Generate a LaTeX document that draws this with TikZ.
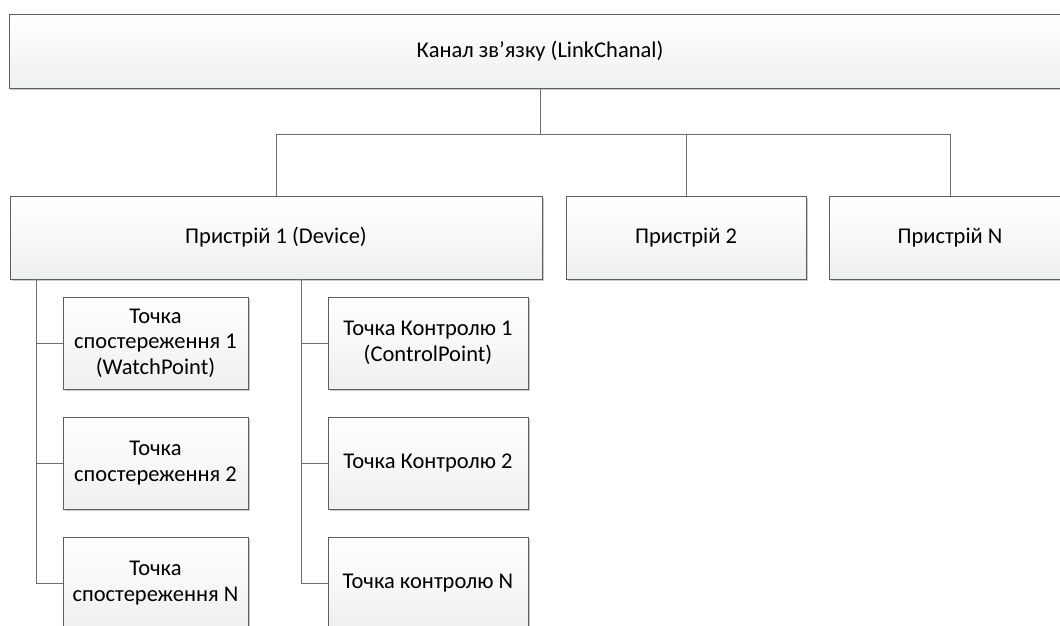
\documentclass[tikz,border=0pt]{standalone}
\usepackage{fontspec}
\setmainfont{Carlito}
\usetikzlibrary{shadows}
\definecolor{boxline}{HTML}{5E5E5E}
\definecolor{conn}{HTML}{6E6E6E}
\definecolor{boxbot}{HTML}{EEF0F0}
\tikzset{
  box/.style={draw=boxline, line width=1pt, top color=white, bottom color=boxbot,
    drop shadow={shadow xshift=2pt, shadow yshift=-2pt, fill=black!35, opacity=0.6},
    inner sep=0pt, align=center, font=\fontsize{22.5}{25.5}\selectfont, text=black},
  link/.style={draw=conn, line width=1pt}
}
\begin{document}
\begin{tikzpicture}[x=1pt, y=-1pt]
\useasboundingbox (0,0) rectangle (1060,626);
\clip (0,0) rectangle (1060,626);
% top
\node[box, minimum width=1062pt, minimum height=73pt] (top) at (540,51.5) {Канал зв’язку (LinkChanal)};
% devices
\node[box, minimum width=532pt, minimum height=83pt] (dev1) at (276,237.5) {Пристрій 1 (Device)};
\node[box, minimum width=240pt, minimum height=83pt] (dev2) at (686,237.5) {Пристрій 2};
\node[box, minimum width=242pt, minimum height=83pt] (devN) at (950,237.5) {Пристрій N};
% watch points
\node[box, minimum width=185pt, minimum height=92pt] (w1) at (155.5,343) {Точка\\спостереження 1\\(WatchPoint)};
\node[box, minimum width=185pt, minimum height=92pt] (w2) at (155.5,463) {Точка\\спостереження 2};
\node[box, minimum width=185pt, minimum height=92pt] (w3) at (155.5,583) {Точка\\спостереження N};
% control points
\node[box, minimum width=200pt, minimum height=92pt] (c1) at (428,343) {Точка Контролю 1\\(ControlPoint)};
\node[box, minimum width=200pt, minimum height=92pt] (c2) at (428,463) {Точка Контролю 2};
\node[box, minimum width=200pt, minimum height=92pt] (c3) at (428,583) {Точка контролю N};
% connectors
\coordinate (bus) at (540,134);
\draw[link] (top.south) -- (bus);
\draw[link] (dev1.north) -- (dev1.north |- bus) -- (devN.north |- bus) -- (devN.north);
\draw[link] (dev2.north) -- (dev2.north |- bus);
\coordinate (lt) at (36,279);
\coordinate (rt) at (301,279);
\draw[link] (lt) |- (w3.west);
\draw[link] (w1.west) -- (w1.west -| lt);
\draw[link] (w2.west) -- (w2.west -| lt);
\draw[link] (rt) |- (c3.west);
\draw[link] (c1.west) -- (c1.west -| rt);
\draw[link] (c2.west) -- (c2.west -| rt);
\end{tikzpicture}
\end{document}
